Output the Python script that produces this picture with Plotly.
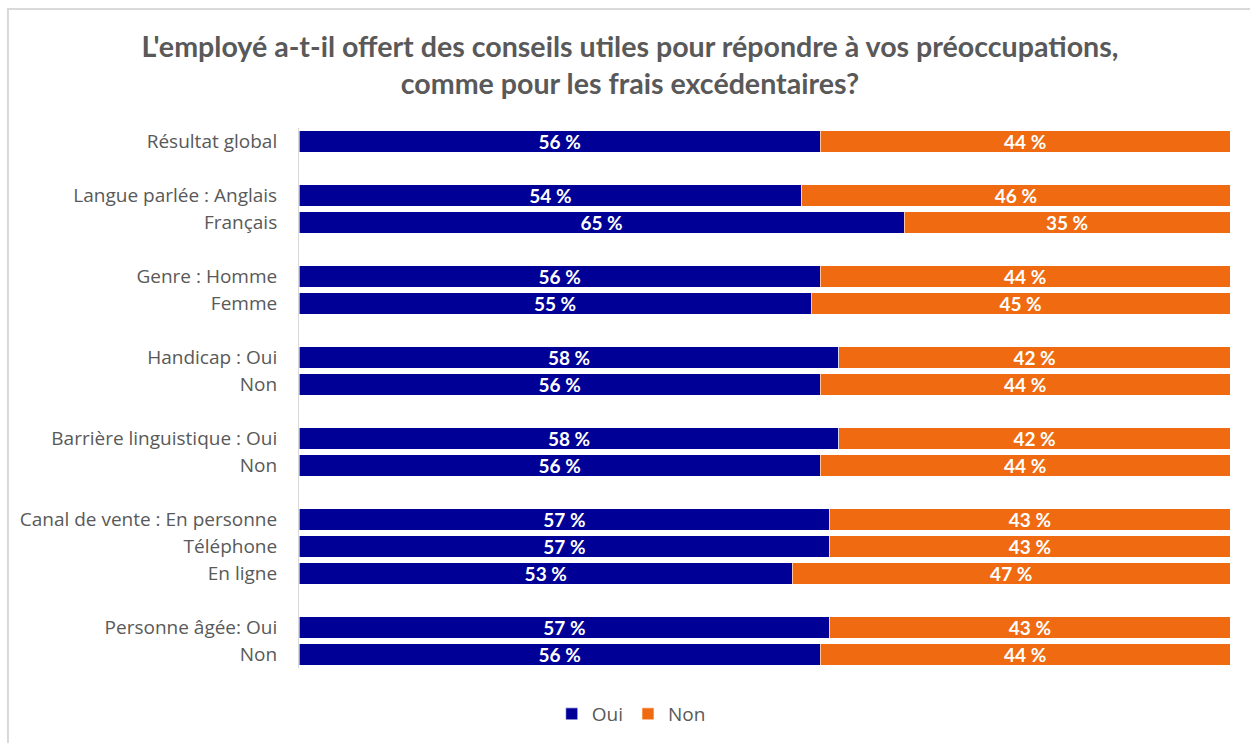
import plotly.graph_objects as go

categories = [
    "Résultat global", " ",
    "Langue parlée : Anglais", "Français", "  ",
    "Genre : Homme", "Femme", "   ",
    "Handicap : Oui", " Non", "    ",
    "Barrière linguistique : Oui", "  Non", "     ",
    "Canal de vente : En personne", "Téléphone", "En ligne", "      ",
    "Personne âgée: Oui", "Non",
]
oui = [56, None, 54, 65, None, 56, 55, None, 58, 56, None, 58, 56, None, 57, 57, 53, None, 57, 56]
non = [44, None, 46, 35, None, 44, 45, None, 42, 44, None, 42, 44, None, 43, 43, 47, None, 43, 44]

def labels(vals):
    return [f"{v} %" if v is not None else "" for v in vals]

fig = go.Figure()
fig.add_trace(go.Bar(
    y=categories, x=oui, orientation="h", name="Oui",
    marker=dict(color="#000096", line=dict(color="#ffffff", width=0.6)),
    text=labels(oui), textposition="inside", insidetextanchor="middle",
    constraintext="none", textangle=0,
    textfont=dict(color="white", size=19, family="Lato", weight="bold"),
))
fig.add_trace(go.Bar(
    y=categories, x=non, orientation="h", name="Non",
    marker=dict(color="#EF6A10", line=dict(color="#ffffff", width=0.6)),
    text=labels(non), textposition="inside", insidetextanchor="middle",
    constraintext="none", textangle=0,
    textfont=dict(color="white", size=19, family="Lato", weight="bold"),
))

fig.update_layout(
    width=1250, height=743,
    barmode="stack", bargap=0.2,
    paper_bgcolor="white", plot_bgcolor="white",
    margin=dict(l=299, r=20, t=128, b=75),
    title=dict(
        text="L'employé a-t-il offert des conseils utiles pour répondre à vos préoccupations,<br>comme pour les frais excédentaires?",
        x=0.504, xanchor="center", xref="container", y=0.9233, yanchor="middle",
        font=dict(family="Lato", size=28.6, color="#595959", weight="bold"),
    ),
    font=dict(family="Open Sans", color="#595959"),
    legend=dict(
        orientation="h", x=0.505, xanchor="center", xref="container",
        y=0.039, yanchor="middle", yref="container",
        font=dict(size=19, color="#595959"), traceorder="normal",
        itemwidth=30,
    ),
    shapes=[dict(type="rect", xref="paper", yref="paper", x0=-0.3126, x1=1.04, y0=-0.2, y1=1.2204,
                 line=dict(color="#D9D9D9", width=2), layer="below")],
)
fig.update_xaxes(range=[0, 100], visible=False, fixedrange=True)
fig.update_yaxes(
    categoryorder="array", categoryarray=categories, autorange="reversed",
    showline=True, linecolor="#D9D9D9", linewidth=1,
    tickfont=dict(size=19, color="#595959", family="Open Sans"),
    ticks="", ticklabelstandoff=17, showgrid=False, fixedrange=True,
)
fig.write_html("out.html", config={"displayModeBar": False},
               post_script="document.body.style.margin='0';window.dispatchEvent(new Event('resize'));")
